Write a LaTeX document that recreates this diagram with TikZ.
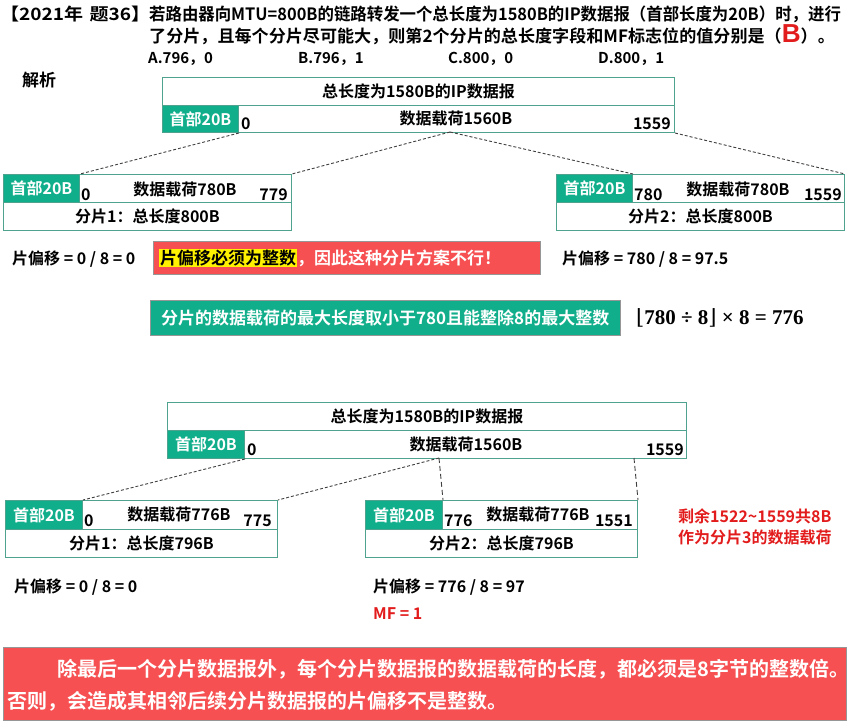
\documentclass[tikz,border=0pt]{standalone}
\usepackage{fontspec}
\setmainfont{Noto Sans CJK SC}[BoldFont={Noto Sans CJK SC Bold}]
\newfontfamily\formulafont{Liberation Serif}
\newfontfamily\bracketfont{DejaVu Serif}
\newfontfamily\heavyfont{Liberation Sans}
\definecolor{hdrgreen}{RGB}{17,174,139}
\definecolor{boxline}{RGB}{78,162,142}
\definecolor{alertred}{RGB}{246,80,82}
\definecolor{txtred}{RGB}{226,28,28}
\definecolor{greybd}{RGB}{150,150,150}
\newcommand{\myfs}[1]{\fontsize{#1}{#1}\selectfont}
\tikzset{
 rowbox/.style={draw=boxline, line width=1pt, anchor=north west, inner sep=0pt},
 hdrbox/.style={rowbox, fill=hdrgreen},
 lbl/.style={inner sep=0pt, font=\bfseries\myfs{16}},
 hlbl/.style={lbl, text=white},
 redlbl/.style={lbl, text=txtred},
 ttl/.style={anchor=west, inner sep=0pt, font=\bfseries\myfs{17}},
 opt/.style={anchor=west, inner sep=0pt, font=\bfseries\myfs{15}},
 cutline/.style={draw=black!75, line width=0.9pt, dash pattern=on 3pt off 2pt},
 cutlong/.style={draw=black!75, line width=0.9pt, dash pattern=on 5pt off 3pt},
 alertbox/.style={draw=greybd, fill=alertred, anchor=north west, inner sep=0pt},
 greenbox/.style={draw=greybd, fill=hdrgreen, anchor=north west, inner sep=0pt},
}
\begin{document}
\begin{tikzpicture}[x=1pt,y=-1pt]
\useasboundingbox (0,0) rectangle (850,725);

% title
\node[ttl] (ttag) at (0,14) {\scalebox{1.12}[1]{【2021年\,\,题36】}};
\node[ttl] (tl1) at (149,14) {\scalebox{0.965}[1]{若路由器向MTU=800B的链路转发一个总长度为1580B的IP数据报（首部长度为20B）时，进行}};
\node[ttl] (tl2) at (149,35) {\scalebox{1.005}[1]{了分片，且每个分片尽可能大，则第2个分片的总长度字段和MF标志位的值分别是（\textcolor{txtred}{\heavyfont\bfseries\myfs{26}B}）。}};
\node[opt] (optA) at (148,59) {A.796，0};
\node[opt] (optB) at (298,59) {B.796，1};
\node[opt] (optC) at (448,59) {C.800，0};
\node[opt] (optD) at (598,59) {D.800，1};
\node[ttl] (jx) at (22,80) {解析};

% datagram 1
\node[rowbox, minimum width=512, minimum height=28] (d1a) at (162,77) {};
\node[rowbox, minimum width=512, minimum height=27] (d1b) at (162,105) {};
\node[hdrbox, minimum width=76, minimum height=27] (d1h) at (162,105) {};
\node[lbl] (d1t) at (d1a.center) {总长度为1580B的IP数据报};
\node[hlbl] (d1hl) at (d1h.center) {首部20B};
\node[lbl, anchor=base west] (d1s) at (241,129) {0};
\node[lbl] (d1p) at (456,118) {数据载荷1560B};
\node[lbl, anchor=base east] (d1e) at (671,129) {1559};

% fragment 1 (first try)
\node[rowbox, minimum width=288, minimum height=28] (f1a) at (3,174) {};
\node[rowbox, minimum width=288, minimum height=28] (f1b) at (3,202) {};
\node[hdrbox, minimum width=76, minimum height=28] (f1h) at (3,174) {};
\node[hlbl] (f1hl) at (f1h.center) {首部20B};
\node[lbl, anchor=base west] (f1s) at (81,200) {0};
\node[lbl] (f1p) at (185,189) {数据载荷780B};
\node[lbl, anchor=base east] (f1e) at (288,200) {779};
\node[lbl] (f1t) at (f1b.center) {分片1：总长度800B};

% fragment 2 (first try)
\node[rowbox, minimum width=288, minimum height=28] (f2a) at (556,174) {};
\node[rowbox, minimum width=288, minimum height=28] (f2b) at (556,202) {};
\node[hdrbox, minimum width=76, minimum height=28] (f2h) at (556,174) {};
\node[hlbl] (f2hl) at (f2h.center) {首部20B};
\node[lbl, anchor=base west] (f2s) at (634,200) {780};
\node[lbl] (f2p) at (738,189) {数据载荷780B};
\node[lbl, anchor=base east] (f2e) at (842,200) {1559};
\node[lbl] (f2t) at (f2b.center) {分片2：总长度800B};

\coordinate (d1m) at (450,132);
\draw[cutline] (d1h.south east) -- (f1h.north east);
\draw[cutline] (d1m) -- (f1a.north east);
\draw[cutline] (d1m) -- (f2h.north east);
\draw[cutline] (d1b.south east) -- (f2a.north east);

\node[lbl, anchor=west] (off1) at (12,259) {片偏移 = 0 / 8 = 0};
\node[lbl, anchor=west] (off2) at (562,259) {片偏移 = 780 / 8 = 97.5};

\node[alertbox, minimum width=387, minimum height=33] (warn) at (153,241) {};
\node[anchor=west, inner sep=0pt, font=\bfseries\myfs{17}] (warnt) at (159,258) {\setlength{\fboxsep}{1pt}\colorbox{yellow}{片偏移必须为整数}\textcolor{white}{，因此这种分片方案不行！}};

\node[greenbox, minimum width=470, minimum height=35] (gbox) at (150,300) {};
\node[inner sep=0pt, text=white, font=\bfseries\myfs{17}] (gtext) at (gbox.center) {分片的数据载荷的最大长度取小于780且能整除8的最大整数};
\node[anchor=west, inner sep=0pt, font=\formulafont\bfseries\myfs{21}] (formula) at (636,318) {{\bracketfont\mdseries ⌊}780 ÷ 8{\bracketfont\mdseries ⌋} × 8 = 776};

% datagram 2
\node[rowbox, minimum width=519, minimum height=28] (d2a) at (167,402) {};
\node[rowbox, minimum width=519, minimum height=28] (d2b) at (167,430) {};
\node[hdrbox, minimum width=77, minimum height=28] (d2h) at (167,430) {};
\node[lbl] (d2t) at (d2a.center) {总长度为1580B的IP数据报};
\node[hlbl] (d2hl) at (d2h.center) {首部20B};
\node[lbl, anchor=base west] (d2s) at (247,455) {0};
\node[lbl] (d2p) at (466,444) {数据载荷1560B};
\node[lbl, anchor=base east] (d2e) at (684,455) {1559};

% fragment 1 (final)
\node[rowbox, minimum width=272, minimum height=29] (g1a) at (5,500) {};
\node[rowbox, minimum width=272, minimum height=28] (g1b) at (5,529) {};
\node[hdrbox, minimum width=77, minimum height=29] (g1h) at (5,500) {};
\node[hlbl] (g1hl) at (g1h.center) {首部20B};
\node[lbl, anchor=base west] (g1s) at (84,526) {0};
\node[lbl] (g1p) at (179,514) {数据载荷776B};
\node[lbl, anchor=base east] (g1e) at (272,526) {775};
\node[lbl] (g1t) at (g1b.center) {分片1：总长度796B};

% fragment 2 (final)
\node[rowbox, minimum width=272, minimum height=29] (g2a) at (365,500) {};
\node[rowbox, minimum width=272, minimum height=28] (g2b) at (365,529) {};
\node[hdrbox, minimum width=77, minimum height=29] (g2h) at (365,500) {};
\node[hlbl] (g2hl) at (g2h.center) {首部20B};
\node[lbl, anchor=base west] (g2s) at (444,526) {776};
\node[lbl] (g2p) at (538,514) {数据载荷776B};
\node[lbl, anchor=base east] (g2e) at (633,526) {1551};
\node[lbl] (g2t) at (g2b.center) {分片2：总长度796B};

\coordinate (d2m) at (439,458);
\coordinate (d2r) at (634,458);
\draw[cutline] (d2h.south east) -- (g1h.north east);
\draw[cutline] (d2m) -- (g1a.north east);
\draw[cutlong] (d2m) -- (g2h.north east);
\draw[cutlong] (d2r) -- (g2a.north east);

\node[redlbl, anchor=west] (rem1) at (678,516) {剩余1522\textasciitilde1559共8B};
\node[redlbl, anchor=west] (rem2) at (678,537) {作为分片3的数据载荷};

\node[lbl, anchor=west] (off3) at (14,587) {片偏移 = 0 / 8 = 0};
\node[lbl, anchor=west] (off4) at (373,587) {片偏移 = 776 / 8 = 97};
\node[redlbl, anchor=west] (mf) at (373,614) {MF = 1};

\node[alertbox, minimum width=843, minimum height=73] (note) at (3,647) {};
\node[anchor=west, inner sep=0pt, text=white, font=\bfseries\myfs{20}] (note1) at (57,669) {除最后一个分片数据报外，每个分片数据报的数据载荷的长度，都必须是8字节的整数倍。};
\node[anchor=west, inner sep=0pt, text=white, font=\bfseries\myfs{20}] (note2) at (7,701) {否则，会造成其相邻后续分片数据报的片偏移不是整数。};
\end{tikzpicture}
\end{document}
